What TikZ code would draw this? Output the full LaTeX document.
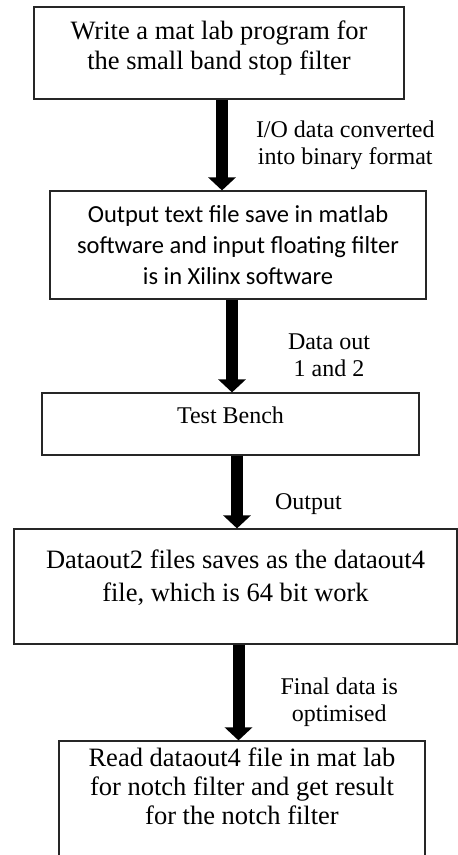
\documentclass[tikz,border=0pt]{standalone}
\usepackage{fontspec}
\setmainfont{Liberation Serif}
\newfontfamily\calibfont{Carlito}
\usetikzlibrary{arrows.meta,positioning}

\begin{document}
\begin{tikzpicture}[
  x=1pt, y=1pt,
  stepbox/.style={draw=black!85, fill=white, line width=1.2pt, align=center, inner sep=0pt, font=\fontsize{26.5}{30}\selectfont},
  lbl/.style={align=center, inner sep=0pt, font=\fontsize{24}{27}\selectfont},
  blockarrow/.style={-{Triangle[length=13pt,width=27pt]}, line width=12pt, color=black}
]
\useasboundingbox (0,0) rectangle (458,-855);
\node[stepbox, minimum width=370pt, minimum height=92pt, text depth=15pt] (prog) at (219,-53) {Write a mat lab program for\\the small band stop filter};
\node[stepbox, minimum width=376pt, minimum height=108pt, font=\calibfont\fontsize{24.5}{31}\selectfont] (txt) at (238,-245) {Output text file save in matlab\\software and input floating filter\\is in Xilinx software};
\node[stepbox, minimum width=377pt, minimum height=62pt, font=\fontsize{24}{27}\selectfont, text depth=18pt] (tb) at (230.5,-424) {Test Bench};
\node[stepbox, minimum width=443pt, minimum height=115pt, font=\fontsize{26.5}{33}\selectfont, text depth=22pt] (dout) at (235.5,-586.5) {Dataout2 files saves as the dataout4\\file, which is 64 bit work};
\node[stepbox, minimum width=366pt, minimum height=129pt, font=\fontsize{26.5}{29}\selectfont, text depth=39pt] (read) at (242,-805.5) {Read dataout4 file in mat lab\\for notch filter and get result\\for the notch filter};

\draw[blockarrow] ([xshift=3pt]prog.south) -- node[lbl, pos=0.5, right=28pt] (conv) {I/O data converted\\into binary format} ([xshift=3pt]prog.south |- txt.north);
\draw[blockarrow] ([xshift=-6pt]txt.south) -- node[lbl, pos=0.6, right=50pt] (dlab) {Data out\\1 and 2} ([xshift=-6pt]txt.south |- tb.north);
\draw[blockarrow] ([xshift=6.5pt]tb.south) -- node[lbl, pos=0.67, right=32pt] (olab) {Output} ([xshift=6.5pt]tb.south |- dout.north);
\draw[blockarrow] ([xshift=3pt]dout.south) -- node[lbl, pos=0.6, right=36pt] (flab) {Final data is\\optimised} ([xshift=3pt]dout.south |- read.north);
\end{tikzpicture}
\end{document}
